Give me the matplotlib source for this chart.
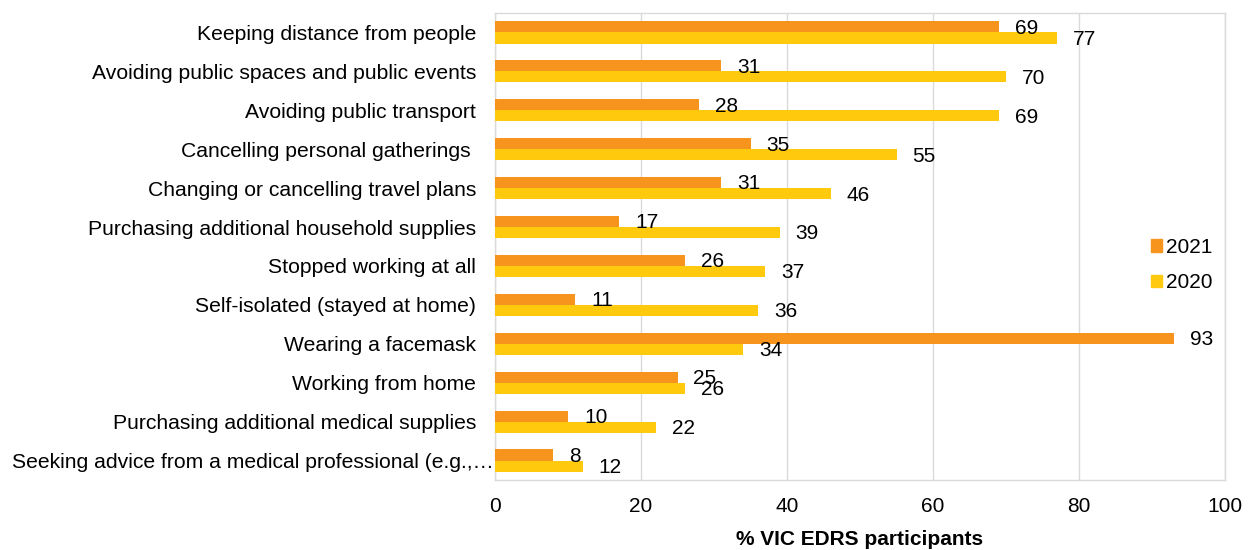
import matplotlib
matplotlib.use("Agg")
import matplotlib.pyplot as plt
import matplotlib.transforms as mtransforms
import numpy as np
from matplotlib.patches import Patch

plt.rcParams['font.family'] = ['Liberation Sans', 'DejaVu Sans']

categories = [
    "Keeping distance from people",
    "Avoiding public spaces and public events",
    "Avoiding public transport",
    "Cancelling personal gatherings ",
    "Changing or cancelling travel plans",
    "Purchasing additional household supplies",
    "Stopped working at all",
    "Self-isolated (stayed at home)",
    "Wearing a facemask",
    "Working from home",
    "Purchasing additional medical supplies",
    "Seeking advice from a medical professional (e.g.,\u2026",
]
values_2021 = [69, 31, 28, 35, 31, 17, 26, 11, 93, 25, 10, 8]
values_2020 = [77, 70, 69, 55, 46, 39, 37, 36, 34, 26, 22, 12]
xticks = [0, 20, 40, 60, 80, 100]

color_2021 = "#F7941D"
color_2020 = "#FFC90E"
fs = 15

fig = plt.figure(figsize=(12.56, 5.5), dpi=100)
ax = fig.add_axes([495 / 1256, 1 - 480 / 550, (1225 - 495) / 1256, (480 - 13) / 550])

n = len(categories)
y = np.arange(n)
h = 0.285

ax.barh(y - h / 2, values_2021, height=h, color=color_2021, label="2021", zorder=3)
ax.barh(y + h / 2, values_2020, height=h, color=color_2020, label="2020", zorder=3)

for yi, v in zip(y, values_2021):
    ax.annotate(str(v), (v, yi - h / 2), xytext=(11.5, -1), textcoords="offset points",
                va="center", ha="left", fontsize=fs, color="#000000", zorder=4)
for yi, v in zip(y, values_2020):
    ax.annotate(str(v), (v, yi + h / 2), xytext=(11.5, -1), textcoords="offset points",
                va="center", ha="left", fontsize=fs, color="#000000", zorder=4)

ax.set_ylim(n - 0.5, -0.5)
ax.set_xlim(0, 100)
ax.set_yticks(y)
ax.set_yticklabels(categories, fontsize=15.2)
ax.set_xticks(xticks)
ax.set_xticklabels([str(t) for t in xticks], fontsize=fs)
ax.tick_params(axis="y", length=0, pad=13.5)
ax.tick_params(axis="x", length=0, pad=12)
ax.grid(axis="x", color="#DDD9D7", linewidth=1, zorder=0)
for s in ax.spines.values():
    s.set_color("#DDD9D7")
    s.set_linewidth(1)

# the truncated last label runs right up to the axis
last = ax.get_yticklabels()[-1]
last.set_transform(last.get_transform() +
                   mtransforms.ScaledTranslation(17 / 100, 0, fig.dpi_scale_trans))

ax.set_xlabel("% VIC EDRS participants", fontsize=fs, fontweight="bold", labelpad=10)

handles = [Patch(color=color_2021, label="2021"), Patch(color=color_2020, label="2020")]
fig.legend(handles=handles, loc="center left", bbox_to_anchor=(1132 / 1256, 1 - 265 / 550),
           frameon=False, fontsize=fs, handlelength=0.55, handleheight=0.55,
           handletextpad=0.2, labelspacing=0.8)

fig.savefig("out.png", dpi=100)
